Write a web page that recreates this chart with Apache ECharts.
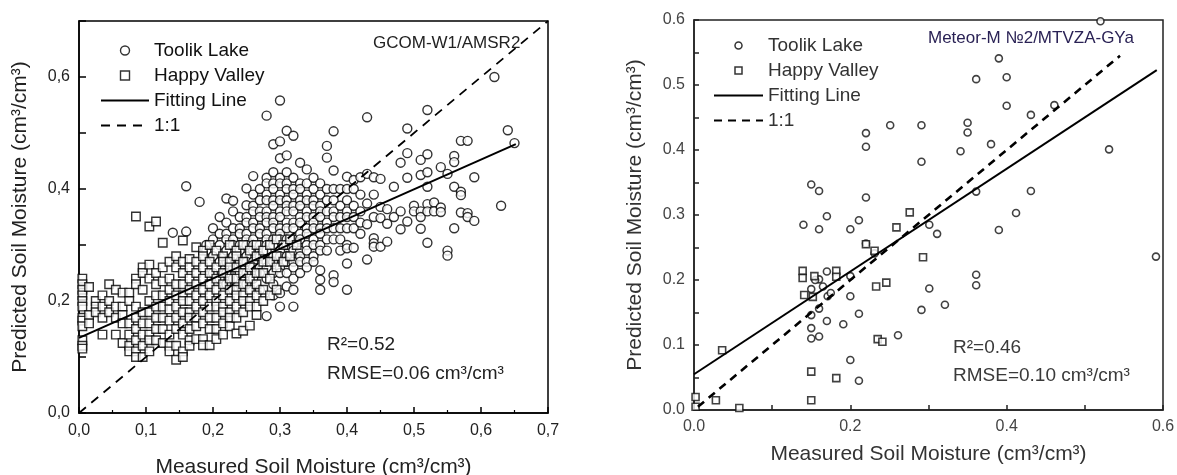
<!DOCTYPE html>
<html>
<head>
<meta charset="utf-8">
<title>Soil moisture validation</title>
<script src="https://cdn.jsdelivr.net/npm/echarts@6.0.0/dist/echarts.min.js"></script>
<style>
html, body { margin: 0; padding: 0; background: #fff; }
#amsr2 { position: absolute; left: 0; top: 0; width: 590px; height: 475px; }
#mtvza { position: absolute; left: 590px; top: 0; width: 587px; height: 475px; }
</style>
</head>
<body>
<div id="amsr2"></div>
<div id="mtvza"></div>
<script>
// ---- data ----
// GCOM-W1/AMSR2, Toolik Lake: [measured x, list of predicted y]
var toolikLeftCols = [
    [0.14, [0.322]],
    [0.16, [0.405, 0.324]],
    [0.18, [0.377]],
    [0.19, [0.30, 0.29]],
    [0.20, [0.33, 0.31, 0.28, 0.25]],
    [0.21, [0.35, 0.32, 0.30, 0.27, 0.24]],
    [0.22, [0.383, 0.34, 0.32, 0.31, 0.29, 0.27, 0.25, 0.23]],
    [0.23, [0.379, 0.36, 0.33, 0.31, 0.30, 0.28, 0.26, 0.24, 0.22]],
    [0.24, [0.35, 0.33, 0.32, 0.30, 0.29, 0.27, 0.25]],
    [0.25, [0.401, 0.371, 0.35, 0.34, 0.32, 0.31, 0.30, 0.28, 0.27, 0.25, 0.23]],
    [0.26, [0.423, 0.39, 0.37, 0.36, 0.34, 0.33, 0.31, 0.30, 0.29, 0.27, 0.26, 0.24]],
    [0.27, [0.40, 0.38, 0.36, 0.35, 0.33, 0.32, 0.30, 0.29, 0.28, 0.26, 0.25, 0.22]],
    [0.28, [0.531, 0.42, 0.41, 0.39, 0.38, 0.36, 0.35, 0.34, 0.32, 0.31, 0.30, 0.29, 0.27, 0.26, 0.24, 0.173]],
    [0.29, [0.48, 0.43, 0.41, 0.40, 0.38, 0.37, 0.35, 0.34, 0.33, 0.31, 0.30, 0.28, 0.27, 0.25, 0.23, 0.21]],
    [0.30, [0.558, 0.485, 0.455, 0.42, 0.41, 0.39, 0.38, 0.36, 0.35, 0.33, 0.32, 0.31, 0.29, 0.28, 0.26, 0.25, 0.214, 0.19]],
    [0.31, [0.504, 0.46, 0.43, 0.41, 0.40, 0.38, 0.37, 0.36, 0.34, 0.33, 0.31, 0.30, 0.28, 0.27, 0.25, 0.226]],
    [0.32, [0.495, 0.42, 0.40, 0.39, 0.37, 0.36, 0.34, 0.33, 0.31, 0.30, 0.29, 0.27, 0.26, 0.24, 0.22, 0.19]],
    [0.33, [0.447, 0.41, 0.40, 0.38, 0.37, 0.35, 0.34, 0.32, 0.31, 0.29, 0.28, 0.27, 0.25]],
    [0.34, [0.435, 0.41, 0.39, 0.38, 0.36, 0.35, 0.33, 0.32, 0.30, 0.29, 0.27, 0.26]],
    [0.35, [0.42, 0.40, 0.38, 0.37, 0.35, 0.34, 0.33, 0.31, 0.30, 0.28, 0.27]],
    [0.36, [0.41, 0.39, 0.37, 0.36, 0.35, 0.33, 0.32, 0.30, 0.29, 0.255, 0.238, 0.22]],
    [0.37, [0.477, 0.456, 0.40, 0.38, 0.36, 0.34, 0.33, 0.31, 0.29]],
    [0.38, [0.503, 0.433, 0.40, 0.38, 0.36, 0.35, 0.33, 0.31, 0.246, 0.234]],
    [0.39, [0.40, 0.37, 0.35, 0.33, 0.31, 0.29]],
    [0.40, [0.422, 0.40, 0.38, 0.36, 0.35, 0.33, 0.30, 0.294, 0.267, 0.22]],
    [0.41, [0.416, 0.40, 0.37, 0.35, 0.33, 0.295]],
    [0.42, [0.421, 0.39, 0.36, 0.34, 0.32]],
    [0.43, [0.528, 0.427, 0.374, 0.337, 0.274]],
    [0.44, [0.421, 0.39, 0.35, 0.312, 0.303, 0.297]],
    [0.45, [0.418, 0.368, 0.348, 0.297]],
    [0.46, [0.364, 0.338, 0.306]],
    [0.47, [0.404, 0.35]],
    [0.48, [0.447, 0.36, 0.328]],
    [0.49, [0.508, 0.464, 0.42, 0.342]],
    [0.50, [0.37, 0.36]],
    [0.51, [0.452, 0.425, 0.36, 0.35, 0.329]],
    [0.52, [0.541, 0.462, 0.43, 0.404, 0.373, 0.36, 0.304]],
    [0.53, [0.376, 0.36]],
    [0.54, [0.439, 0.367, 0.359]],
    [0.55, [0.427, 0.29, 0.281]],
    [0.56, [0.459, 0.448, 0.404, 0.33]],
    [0.57, [0.486, 0.395, 0.389, 0.358]],
    [0.58, [0.486, 0.357, 0.35]],
    [0.59, [0.421, 0.343]],
    [0.62, [0.60]],
    [0.63, [0.37]],
    [0.64, [0.505]],
    [0.65, [0.482]]
];
// GCOM-W1/AMSR2, Happy Valley
var happyLeftCols = [
    [0.005, [0.24, 0.23, 0.22, 0.21, 0.20, 0.19, 0.17, 0.165, 0.155, 0.13, 0.12, 0.115]],
    [0.015, [0.225, 0.175, 0.16]],
    [0.025, [0.20, 0.19, 0.18]],
    [0.035, [0.21, 0.19, 0.17, 0.14]],
    [0.045, [0.23, 0.20, 0.18]],
    [0.055, [0.22, 0.19, 0.17, 0.14]],
    [0.065, [0.215, 0.19, 0.175, 0.16, 0.125]],
    [0.075, [0.215, 0.20, 0.16, 0.14, 0.12, 0.11]],
    [0.085, [0.351, 0.24, 0.23, 0.19, 0.17, 0.15, 0.13, 0.11, 0.10]],
    [0.095, [0.26, 0.25, 0.22, 0.18, 0.16, 0.14, 0.12, 0.10]],
    [0.105, [0.333, 0.265, 0.24, 0.20, 0.18, 0.16, 0.14, 0.13, 0.11]],
    [0.115, [0.342, 0.25, 0.23, 0.21, 0.19, 0.17, 0.15, 0.13]],
    [0.125, [0.304, 0.26, 0.235, 0.21, 0.19, 0.17, 0.15, 0.125]],
    [0.135, [0.27, 0.24, 0.22, 0.20, 0.185, 0.165, 0.14, 0.12, 0.11]],
    [0.145, [0.28, 0.26, 0.23, 0.21, 0.19, 0.17, 0.15, 0.12, 0.095]],
    [0.155, [0.308, 0.27, 0.25, 0.23, 0.21, 0.20, 0.18, 0.16, 0.14, 0.11, 0.10]],
    [0.165, [0.275, 0.26, 0.24, 0.22, 0.20, 0.18, 0.17, 0.15, 0.13, 0.12]],
    [0.175, [0.296, 0.27, 0.25, 0.23, 0.21, 0.19, 0.17, 0.155, 0.132]],
    [0.185, [0.29, 0.28, 0.26, 0.24, 0.22, 0.20, 0.18, 0.16, 0.132, 0.121]],
    [0.195, [0.30, 0.27, 0.25, 0.23, 0.21, 0.19, 0.17, 0.15, 0.121]],
    [0.205, [0.29, 0.26, 0.24, 0.22, 0.20, 0.19, 0.17, 0.15, 0.132]],
    [0.215, [0.28, 0.27, 0.25, 0.23, 0.21, 0.19, 0.18, 0.16, 0.14]],
    [0.225, [0.30, 0.27, 0.26, 0.24, 0.22, 0.20, 0.18, 0.17, 0.155]],
    [0.235, [0.29, 0.28, 0.26, 0.24, 0.22, 0.21, 0.19, 0.17, 0.142]],
    [0.245, [0.30, 0.27, 0.25, 0.23, 0.21, 0.20, 0.18, 0.147]],
    [0.255, [0.29, 0.26, 0.24, 0.22, 0.20, 0.19, 0.156]],
    [0.265, [0.30, 0.28, 0.25, 0.23, 0.21, 0.19, 0.175]],
    [0.275, [0.29, 0.27, 0.25, 0.22, 0.20]],
    [0.285, [0.30, 0.27, 0.24, 0.21]],
    [0.295, [0.31, 0.28, 0.26, 0.22]],
    [0.305, [0.30, 0.27]],
    [0.315, [0.31, 0.28]],
    [0.325, [0.30]]
];
var fitLeft = [[0, 0.134], [0.652, 0.48]];
var oneToOneLeft = [[0, 0], [0.7, 0.7]];

// Meteor-M No2/MTVZA-GYa
var toolikRight = [
    [0.361, 0.509], [0.251, 0.438], [0.291, 0.438], [0.350, 0.442], [0.350, 0.427],
    [0.220, 0.426], [0.220, 0.405], [0.341, 0.398], [0.380, 0.409], [0.291, 0.382],
    [0.150, 0.347], [0.160, 0.337], [0.361, 0.336], [0.220, 0.327], [0.170, 0.298],
    [0.140, 0.285], [0.160, 0.278], [0.200, 0.278], [0.211, 0.292], [0.301, 0.285],
    [0.311, 0.271], [0.220, 0.256], [0.231, 0.241], [0.170, 0.213], [0.160, 0.201],
    [0.150, 0.186], [0.171, 0.175], [0.200, 0.175], [0.200, 0.206], [0.301, 0.187],
    [0.321, 0.162], [0.361, 0.208], [0.361, 0.192], [0.291, 0.154], [0.150, 0.146],
    [0.160, 0.156], [0.170, 0.137], [0.191, 0.132], [0.211, 0.148], [0.150, 0.126],
    [0.150, 0.110], [0.160, 0.113], [0.261, 0.115], [0.200, 0.077], [0.211, 0.045],
    [0.390, 0.541], [0.400, 0.512], [0.400, 0.468], [0.431, 0.454], [0.461, 0.469],
    [0.531, 0.401], [0.431, 0.337], [0.412, 0.303], [0.390, 0.277], [0.591, 0.236],
    [0.520, 0.598], [0.155, 0.200], [0.165, 0.190], [0.175, 0.180]
];
var happyRight = [
    [0.276, 0.304], [0.259, 0.281], [0.220, 0.255], [0.231, 0.245], [0.293, 0.235],
    [0.233, 0.190], [0.246, 0.196], [0.139, 0.214], [0.139, 0.203], [0.154, 0.206],
    [0.182, 0.214], [0.182, 0.205], [0.141, 0.177], [0.152, 0.174], [0.235, 0.109],
    [0.241, 0.105], [0.036, 0.092], [0.150, 0.059], [0.182, 0.049], [0.150, 0.015],
    [0.028, 0.015], [0.002, 0.020], [0.002, 0.005], [0.058, 0.003]
];
var fitRight = [[0, 0.055], [0.592, 0.523]];
var oneToOneRight = [[0.005, 0.005], [0.545, 0.545]];

function flatten(cols) {
    var out = [];
    cols.forEach(function (c) {
        c[1].forEach(function (y) { out.push([c[0], y]); });
    });
    return out;
}
var toolikLeft = flatten(toolikLeftCols);
var happyLeft = flatten(happyLeftCols);

var font = "'Liberation Sans', Arial, sans-serif";

// legend entries: square drawn as a path so it keeps its aspect, no dot on the lines
function legendData(border) {
    var hidden = { color: 'rgba(0,0,0,0)', borderWidth: 0 };
    return [
        { name: 'Toolik Lake', icon: 'circle', itemStyle: { color: '#fff', borderColor: '#000', borderWidth: border } },
        { name: 'Happy Valley', icon: 'path://M0,0L10,0L10,10L0,10Z', itemStyle: { color: '#fff', borderColor: '#000', borderWidth: border } },
        { name: 'Fitting Line', itemStyle: hidden },
        { name: '1:1', itemStyle: hidden }
    ];
}

// 左图 GCOM-W1/AMSR2
var myChart = echarts.init(document.getElementById('amsr2'));
var option = {
    animation: false,
    textStyle: { fontFamily: font },
    title: [
        {
            text: 'GCOM-W1/AMSR2', left: 373, top: 35, padding: 0,
            textStyle: { fontSize: 17, fontWeight: 'normal', color: '#222', fontFamily: font }
        },
        {
            text: 'R²=0.52\nRMSE=0.06 cm³/cm³', left: 327, top: 330, padding: 0,
            textStyle: { fontSize: 19, fontWeight: 'normal', color: '#222', lineHeight: 29, fontFamily: font }
        }
    ],
    legend: {
        orient: 'vertical',
        left: 100,
        top: 41,
        padding: 0,
        itemWidth: 48,
        itemHeight: 9,
        itemGap: 6,
        textStyle: { fontSize: 19, color: '#111', fontFamily: font },
        data: legendData(1.4)
    },
    grid: {
        left: 79, top: 21, width: 469, height: 392,
        outerBoundsMode: 'none', containLabel: false,
        show: true, borderColor: '#000', borderWidth: 1.5
    },
    xAxis: {
        type: 'value', min: 0, max: 0.7, interval: 0.1,
        name: 'Measured Soil Moisture (cm³/cm³)',
        nameLocation: 'middle', nameGap: 44,
        nameTextStyle: { fontSize: 21, color: '#222', fontFamily: font },
        axisLine: { lineStyle: { color: '#000', width: 1.5 } },
        axisTick: { inside: true, length: 6, lineStyle: { color: '#000', width: 1.5 } },
        minorTick: { show: true, splitNumber: 2, length: 3, lineStyle: { color: '#000', width: 1.2 } },
        splitLine: { show: false },
        axisLabel: {
            margin: 10, fontSize: 16, color: '#222', fontFamily: font,
            formatter: function (v) { return v.toFixed(1).replace('.', ','); }
        }
    },
    yAxis: {
        type: 'value', min: 0, max: 0.7, interval: 0.1,
        name: 'Predicted Soil Moisture (cm³/cm³)',
        nameLocation: 'middle', nameGap: 48,
        nameTextStyle: { fontSize: 21, color: '#222', fontFamily: font },
        axisLine: { lineStyle: { color: '#000', width: 1.5 } },
        axisTick: { inside: true, length: 7, lineStyle: { color: '#000', width: 1.5 } },
        splitLine: { show: false },
        axisLabel: {
            margin: 9, fontSize: 16, color: '#222', fontFamily: font,
            formatter: function (v) {
                var k = Math.round(v * 10);
                return (k % 2 === 0 && k < 7) ? v.toFixed(1).replace('.', ',') : '';
            }
        }
    },
    series: [
        {
            name: '1:1', type: 'line', data: oneToOneLeft, symbol: 'none',
            lineStyle: { color: '#000', width: 1.8, type: [9, 7] }
        },
        {
            name: 'Toolik Lake', type: 'scatter', data: toolikLeft,
            symbol: 'circle', symbolSize: 9,
            itemStyle: { color: '#fff', borderColor: '#000', borderWidth: 1.4 }
        },
        {
            name: 'Happy Valley', type: 'scatter', data: happyLeft,
            symbol: 'rect', symbolSize: 8.5,
            itemStyle: { color: '#fff', borderColor: '#000', borderWidth: 1.4 }
        },
        {
            name: 'Fitting Line', type: 'line', data: fitLeft, symbol: 'none',
            lineStyle: { color: '#000', width: 2 }
        }
    ]
};
myChart.setOption(option);

// 右图 Meteor-M No2/MTVZA-GYa
var myChart2 = echarts.init(document.getElementById('mtvza'));
var option2 = {
    animation: false,
    textStyle: { fontFamily: font },
    title: [
        {
            text: 'Meteor-M №2/MTVZA-GYa', left: 338, top: 30, padding: 0,
            textStyle: { fontSize: 17, fontWeight: 'normal', color: '#2a2255', fontFamily: font }
        },
        {
            text: 'R²=0.46\nRMSE=0.10 cm³/cm³', left: 363, top: 334, padding: 0,
            textStyle: { fontSize: 19, fontWeight: 'normal', color: '#3a3a3a', lineHeight: 28, fontFamily: font }
        }
    ],
    legend: {
        orient: 'vertical',
        left: 123,
        top: 36,
        padding: 0,
        itemWidth: 49,
        itemHeight: 7,
        itemGap: 6,
        textStyle: { fontSize: 19, color: '#333', fontFamily: font },
        data: legendData(1.5)
    },
    grid: {
        left: 104, top: 20, width: 469, height: 390,
        outerBoundsMode: 'none', containLabel: false,
        show: true, borderColor: '#222', borderWidth: 1.5
    },
    xAxis: {
        type: 'value', min: 0, max: 0.6, interval: 0.1,
        name: 'Measured Soil Moisture (cm³/cm³)',
        nameLocation: 'middle', nameGap: 34,
        nameTextStyle: { fontSize: 21, color: '#333', fontFamily: font },
        axisLine: { lineStyle: { color: '#222', width: 1.5 } },
        axisTick: { inside: true, length: 5, lineStyle: { color: '#222', width: 1.5 } },
        splitLine: { show: false },
        axisLabel: {
            margin: 9, fontSize: 16, color: '#444', fontFamily: font,
            formatter: function (v) { return Math.round(v * 10) % 2 === 0 ? v.toFixed(1) : ''; }
        }
    },
    yAxis: {
        type: 'value', min: 0, max: 0.6, interval: 0.05,
        name: 'Predicted Soil Moisture (cm³/cm³)',
        nameLocation: 'middle', nameGap: 48,
        nameTextStyle: { fontSize: 21, color: '#333', fontFamily: font },
        axisLine: { lineStyle: { color: '#222', width: 1.5 } },
        axisTick: { inside: true, length: 5, lineStyle: { color: '#222', width: 1.5 } },
        splitLine: { show: false },
        axisLabel: {
            margin: 9, fontSize: 16, color: '#444', fontFamily: font,
            formatter: function (v) { return Math.round(v * 100) % 10 === 0 ? v.toFixed(1) : ''; }
        }
    },
    series: [
        {
            name: 'Toolik Lake', type: 'scatter', data: toolikRight,
            symbol: 'circle', symbolSize: 7,
            itemStyle: { color: '#fff', borderColor: '#111', borderWidth: 1.6 }
        },
        {
            name: 'Happy Valley', type: 'scatter', data: happyRight,
            symbol: 'rect', symbolSize: 7,
            itemStyle: { color: '#fff', borderColor: '#111', borderWidth: 1.6 }
        },
        {
            name: 'Fitting Line', type: 'line', data: fitRight, symbol: 'none',
            lineStyle: { color: '#000', width: 2 }
        },
        {
            name: '1:1', type: 'line', data: oneToOneRight, symbol: 'none',
            lineStyle: { color: '#000', width: 2.6, type: [8, 6] }
        }
    ]
};
myChart2.setOption(option2);
</script>
</body>
</html>
